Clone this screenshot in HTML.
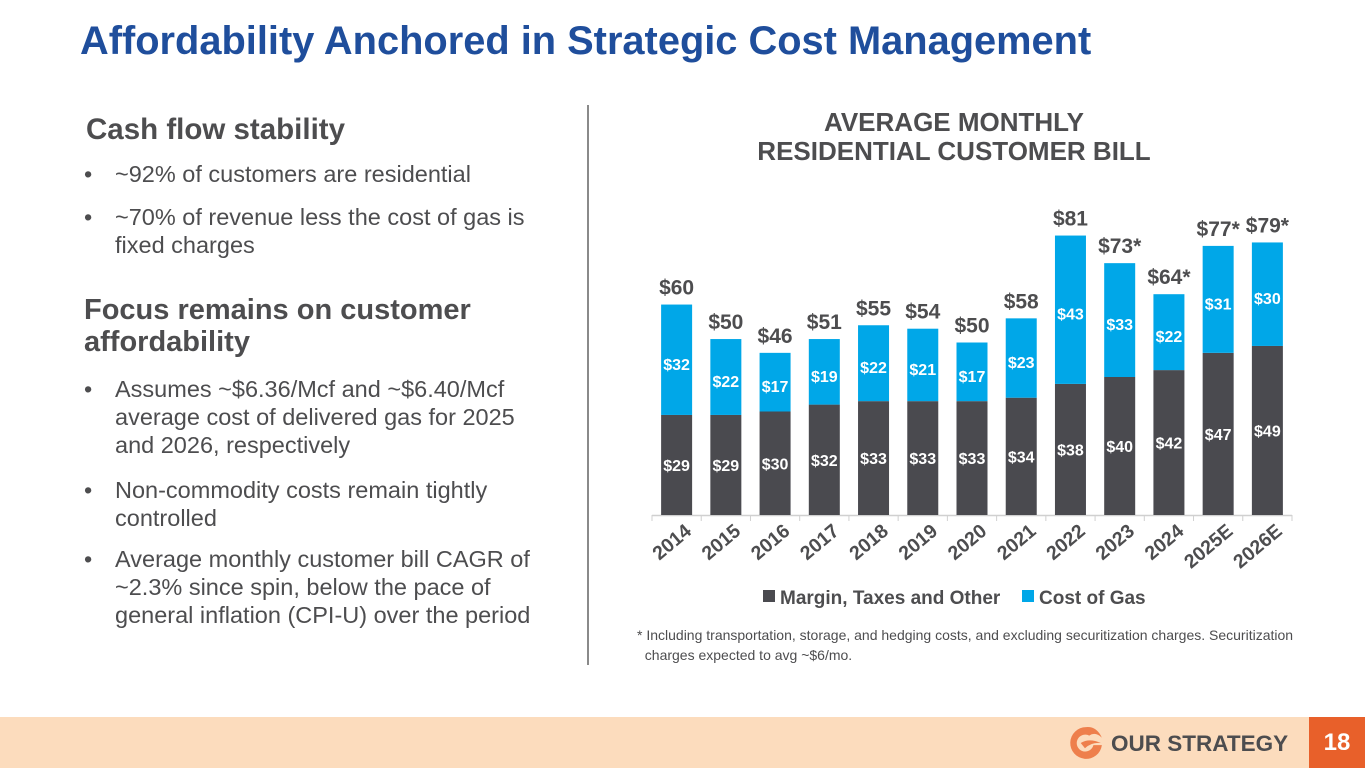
<!DOCTYPE html>
<html><head><meta charset="utf-8"><style>
body{margin:0;width:1365px;height:768px;position:relative;background:#fff;font-family:"Liberation Sans",sans-serif;overflow:hidden}
.t{position:absolute;white-space:nowrap}
.h{font-weight:bold;color:#4d4d4f}
.bl{position:absolute;left:84px;font-size:23.5px;color:#4d4d4f;line-height:28px}
</style></head><body>
<div class="t" style="left:80px;top:19px;font-size:39.8px;font-weight:bold;color:#1f4e9c">Affordability Anchored in Strategic Cost Management</div>
<div class="t h" style="left:86px;top:113px;font-size:29.5px">Cash flow stability</div>
<div class="bl" style="top:160px"><span style="position:absolute;left:0">•</span><span style="position:absolute;left:31px;white-space:nowrap">~92% of customers are residential</span></div>
<div class="bl" style="top:203px;width:480px"><span style="position:absolute;left:0">•</span><div style="margin-left:31px;width:436px">~70% of revenue less the cost of gas is fixed charges</div></div>
<div class="t h" style="left:84px;top:294px;font-size:29px;line-height:32px;white-space:normal;width:470px">Focus remains on customer affordability</div>
<div class="bl" style="top:375px;width:480px"><span style="position:absolute;left:0">•</span><div style="margin-left:31px;width:436px">Assumes ~$6.36/Mcf and ~$6.40/Mcf average cost of delivered gas for 2025 and 2026, respectively</div></div>
<div class="bl" style="top:476px;width:480px"><span style="position:absolute;left:0">•</span><div style="margin-left:31px;width:436px">Non-commodity costs remain tightly controlled</div></div>
<div class="bl" style="top:545px;width:500px"><span style="position:absolute;left:0">•</span><div style="margin-left:31px;width:440px">Average monthly customer bill CAGR of ~2.3% since spin, below the pace of general inflation (CPI-U) over the period</div></div>
<div style="position:absolute;left:587px;top:105px;width:2px;height:560px;background:#8a8a8a"></div>
<div class="t h" style="left:684px;top:108px;width:540px;text-align:center;font-size:26px;line-height:29px">AVERAGE MONTHLY<br>RESIDENTIAL CUSTOMER BILL</div>
<svg id="chart" style="position:absolute;left:0;top:0" width="1365" height="768"></svg>
<div class="t" style="left:637px;top:625px;font-size:14px;line-height:20px;color:#4d4d4f">* Including transportation, storage, and hedging costs, and excluding securitization charges. Securitization<br>&nbsp;&nbsp;charges expected to avg ~$6/mo.</div>
<div style="position:absolute;left:0;top:717px;width:1365px;height:51px;background:#fcdcbd"></div>
<svg style="position:absolute;left:1068px;top:725px" width="36" height="36" viewBox="0 0 34 34"><path d="M17 2A15 15 0 1 0 32 19L24 19A8 8 0 1 1 20 10Q26 6 32 12Q27 1 17 2Z" fill="#ee7f4c"/><path d="M12 17Q20 12 31 17Q22 16 16 22Z" fill="#ee7f4c"/></svg>
<div class="t" style="left:1111px;top:731px;font-size:22.5px;font-weight:bold;color:#4d4d4f">OUR STRATEGY</div>
<div style="position:absolute;left:1309px;top:717px;width:56px;height:51px;background:#e8602a;color:#fff;font-weight:bold;font-size:24px;line-height:51px;text-align:center">18</div>
<script>
const categories=["2014","2015","2016","2017","2018","2019","2020","2021","2022","2023","2024","2025E","2026E"];
const margin=[29,29,30,32,33,33,33,34,38,40,42,47,49];
const gas=[32,22,17,19,22,21,17,23,43,33,22,31,30];
const totalLabels=["$60","$50","$46","$51","$55","$54","$50","$58","$81","$73*","$64*","$77*","$79*"];
const NS="http://www.w3.org/2000/svg";
const svg=document.getElementById('chart');
const x0=652,x1=1292,base=515,pxPer=3.45,bw=31;
const step=(x1-x0)/categories.length;
const xc=i=>x0+step*(i+0.5);
const y=v=>base-v*pxPer;
function mk(t,a){const e=document.createElementNS(NS,t);for(const k in a)e.setAttribute(k,a[k]);svg.appendChild(e);return e;}
const ax=mk('line',{x1:x0,x2:x1,y1:base+0.5,y2:base+0.5,stroke:'#d0d0d0','stroke-width':1.5});


for(let i=0;i<=categories.length;i++){const tk=mk('line',{x1:x0+step*i,x2:x0+step*i,y1:base,y2:base+6,stroke:'#d0d0d0'});

}
categories.forEach((c,i)=>{
const cx=xc(i),m=margin[i],g=gas[i];
const r1=mk('rect',{x:cx-bw/2,y:y(m),width:bw,height:m*pxPer,fill:'#4a4a4f'});


const r2=mk('rect',{x:cx-bw/2,y:y(m+g),width:bw,height:g*pxPer,fill:'#00a7e8'});


const t1=mk('text',{x:cx,y:(y(m)+base)/2+6,'text-anchor':'middle',fill:'#fff','font-size':16,'font-weight':'bold'});t1.textContent='$'+m;


const t2=mk('text',{x:cx,y:(y(m)+y(m+g))/2+10,'text-anchor':'middle',fill:'#fff','font-size':16,'font-weight':'bold'});t2.textContent='$'+g;


const t3=mk('text',{x:cx,y:y(m+g)-10,'text-anchor':'middle',fill:'#4d4d4f','font-size':21,'font-weight':'bold'});t3.textContent=totalLabels[i];


const t4=mk('text',{x:cx+16,y:533,'text-anchor':'end',fill:'#4d4d4f','font-size':19.5,'font-weight':'bold',transform:`rotate(-40 ${cx+16} 533)`});t4.textContent=c;


});
const l1=mk('rect',{x:763,y:590,width:12,height:12,fill:'#4a4a4f'});


const lt1=mk('text',{x:780,y:604,fill:'#4d4d4f','font-size':19,'font-weight':'bold'});lt1.textContent='Margin, Taxes and Other';


const l2=mk('rect',{x:1022,y:590,width:12,height:12,fill:'#00a7e8'});


const lt2=mk('text',{x:1039,y:604,fill:'#4d4d4f','font-size':19,'font-weight':'bold'});lt2.textContent='Cost of Gas';


</script>
</body></html>
